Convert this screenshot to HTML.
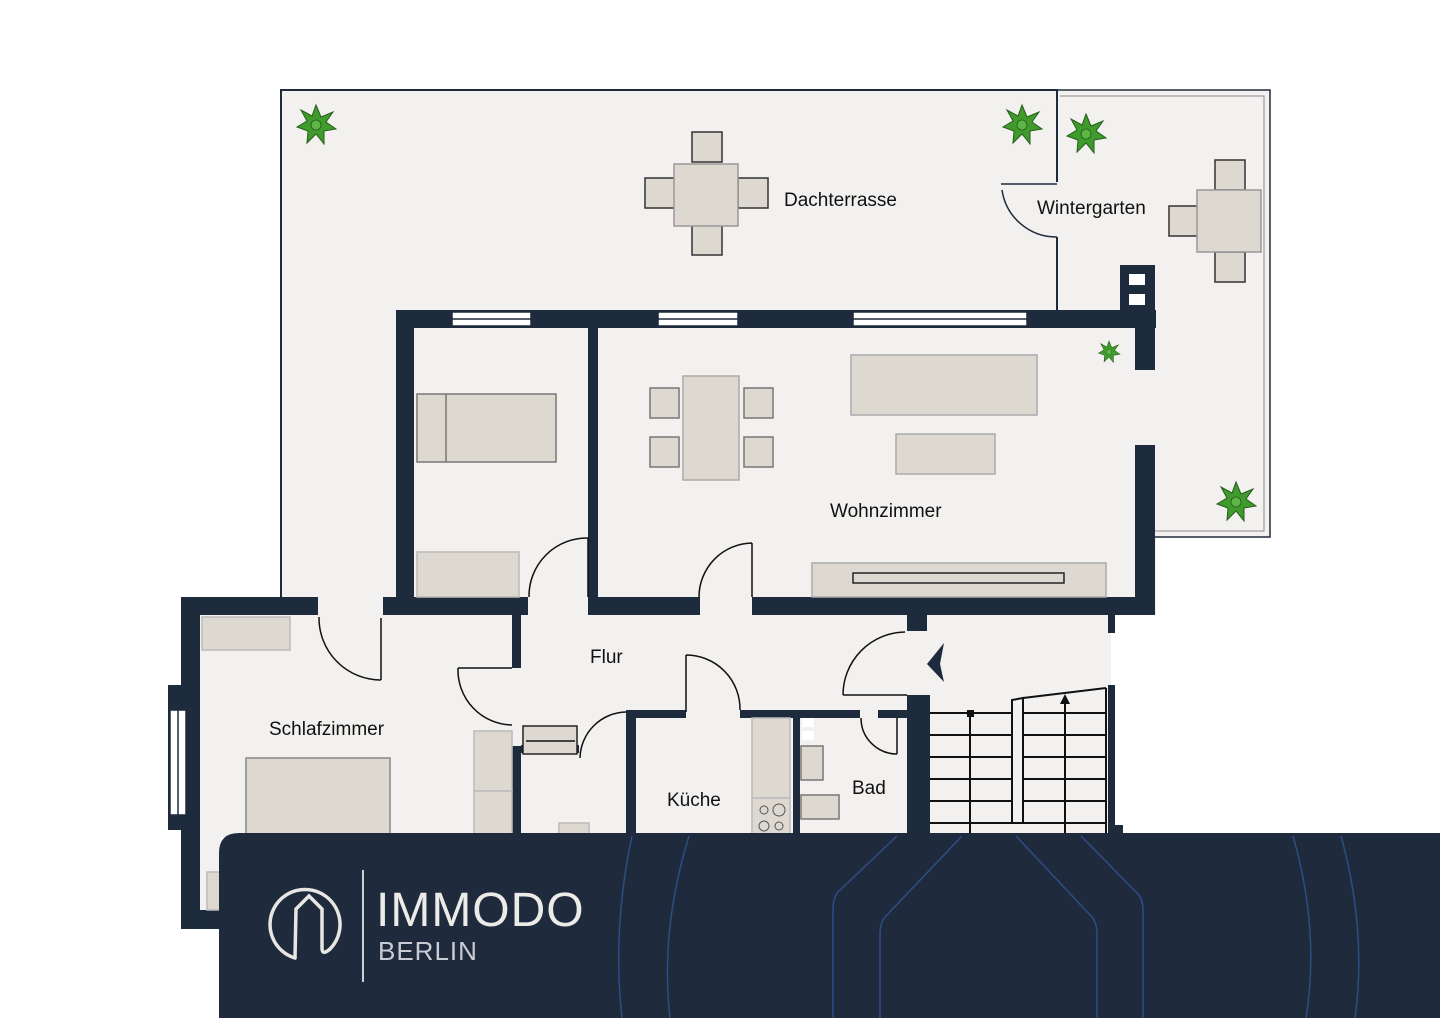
<!DOCTYPE html>
<html><head><meta charset="utf-8"><style>
html,body{margin:0;padding:0;background:#fff;}
svg{display:block;}
text{font-family:"Liberation Sans",sans-serif;}
</style></head><body>
<svg width="1440" height="1018" viewBox="0 0 1440 1018" xmlns="http://www.w3.org/2000/svg">
<defs>
<g id="plant">
<polygon points="0,-20 5,-8 17,-13 10,-3 20,4 8,6 8,19 0,9 -9,18 -8,6 -19,2 -9,-4 -15,-15 -4,-9" fill="#3f9b2c" stroke="#245c1a" stroke-width="1"/>
<circle r="5" fill="#5cb545" stroke="#245c1a" stroke-width="0.8"/>
</g>
</defs>
<rect width="1440" height="1018" fill="#fff"/>
<!-- floors -->
<polygon points="281,90 1057,90 1057,310 396,310 396,615 318,615 318,600 281,600" fill="#f3f1ef"/>
<rect x="1057" y="90" width="213" height="447" fill="#f3f1ef"/>
<rect x="1135" y="310" width="22" height="227" fill="#f3f1ef"/>
<rect x="396" y="310" width="760" height="305" fill="#f3f1ef"/>
<rect x="181" y="597" width="930" height="240" fill="#f3f1ef"/>
<rect x="200" y="830" width="20" height="80" fill="#f3f1ef"/>
<!-- terrace outlines -->
<polyline points="281,600 281,90 1057,90 1057,182" fill="none" stroke="#1e2b3c" stroke-width="2"/>
<line x1="1057" y1="237" x2="1057" y2="310" stroke="#1e2b3c" stroke-width="2"/>
<path d="M1001,184 L1057,184 M1057,237 A55,55 0 0 1 1002,190" fill="none" stroke="#1e2b3c" stroke-width="1.5"/>
<polyline points="1057,90 1270,90 1270,537 1155,537" fill="none" stroke="#1e2b3c" stroke-width="1.5"/>
<polyline points="1060,96 1264,96 1264,531 1155,531" fill="none" stroke="#888" stroke-width="1"/>
<!-- terrace table -->
<g fill="#ddd8d0" stroke="#333" stroke-width="1.5">
<rect x="692" y="132" width="30" height="30"/><rect x="692" y="225" width="30" height="30"/>
<rect x="645" y="178" width="30" height="30"/><rect x="738" y="178" width="30" height="30"/>
<rect x="674" y="164" width="64" height="62" stroke="#999"/>
<rect x="1215" y="160" width="30" height="30"/><rect x="1215" y="252" width="30" height="30"/>
<rect x="1169" y="206" width="30" height="30"/>
<rect x="1197" y="190" width="64" height="62" stroke="#999"/>
</g>
<use href="#plant" x="316" y="125"/><use href="#plant" x="1022" y="125"/>
<use href="#plant" x="1086" y="134"/><use href="#plant" x="1236" y="502"/>
<g transform="translate(1109,352) scale(0.55)"><use href="#plant"/></g>
<!-- walls -->
<g fill="#1e2b3c">
<rect x="396" y="310" width="760" height="18"/>
<rect x="396" y="310" width="18" height="305"/>
<rect x="588" y="328" width="10" height="287"/>
<rect x="1120" y="265" width="35" height="50"/>
<rect x="1135" y="310" width="20" height="60"/>
<rect x="1135" y="445" width="20" height="170"/>
<rect x="383" y="597" width="145" height="18"/>
<rect x="588" y="597" width="112" height="18"/>
<rect x="752" y="597" width="403" height="18"/>
<rect x="181" y="597" width="137" height="18"/>
<rect x="181" y="597" width="19" height="332"/>
<rect x="168" y="685" width="20" height="145"/>
<rect x="181" y="910" width="40" height="19"/>
<rect x="512" y="615" width="9" height="53"/>
<rect x="512" y="746" width="9" height="90"/>
<rect x="521" y="745" width="58" height="8"/>
<rect x="626" y="710" width="10" height="126"/>
<rect x="626" y="710" width="60" height="8"/>
<rect x="740" y="710" width="120" height="8"/>
<rect x="878" y="710" width="30" height="8"/>
<rect x="793" y="716" width="7" height="120"/>
<rect x="907" y="615" width="20" height="16"/>
<rect x="907" y="695" width="23" height="140"/>
<rect x="1108" y="615" width="7" height="18"/>
<rect x="1108" y="685" width="7" height="150"/>
<rect x="1115" y="825" width="8" height="10"/>
</g>
<rect x="1129" y="274" width="16" height="11" fill="#fff"/><rect x="1129" y="294" width="16" height="11" fill="#fff"/>
<!-- windows -->
<g fill="#fff" stroke="#1e2b3c" stroke-width="1.5">
<rect x="452" y="312" width="79" height="14"/><rect x="658" y="312" width="80" height="14"/><rect x="853" y="312" width="174" height="14"/>
<rect x="170" y="710" width="16" height="105"/>
</g>
<g stroke="#1e2b3c" stroke-width="1.5">
<line x1="452" y1="319" x2="531" y2="319"/><line x1="658" y1="319" x2="738" y2="319"/><line x1="853" y1="319" x2="1027" y2="319"/>
<line x1="178" y1="710" x2="178" y2="815"/>
</g>
<!-- doors -->
<g fill="none" stroke="#111" stroke-width="1.5">
<path d="M588,538 L588,597 M529,597 A58,58 0 0 1 588,538"/>
<path d="M752,543 L752,597 M699,597 A54,54 0 0 1 752,543"/>
<path d="M381,618 L381,680 M319,617 A62,62 0 0 0 381,680"/>
<path d="M458,668 L512,668 M458,668 A55,55 0 0 0 512,725"/>
<path d="M626,712 A47,47 0 0 0 580,758"/>
<path d="M686,655 L686,712 M686,655 A54,54 0 0 1 740,710"/>
<path d="M843,695 L907,695 M843,695 A63,63 0 0 1 905,632"/>
<path d="M897,718 L897,754 M861,718 A36,36 0 0 0 897,754"/>
</g>
<polygon points="927,664 944,643 940,664 944,682" fill="#1e2b3c"/>
<!-- stairs -->
<g fill="none" stroke="#111" stroke-width="2">
<line x1="930" y1="713" x2="1106" y2="713"/>
<line x1="930" y1="735" x2="1106" y2="735"/>
<line x1="930" y1="757" x2="1106" y2="757"/>
<line x1="930" y1="779" x2="1106" y2="779"/>
<line x1="930" y1="801" x2="1106" y2="801"/>
<line x1="930" y1="823" x2="1106" y2="823"/>
<line x1="970" y1="713" x2="970" y2="835"/>
<line x1="1065" y1="700" x2="1065" y2="835"/>
<polygon points="1012,700 1023,698 1023,823 1012,823" fill="#f3f1ef"/>
<line x1="1023" y1="698" x2="1106" y2="688"/>
<line x1="1106" y1="688" x2="1106" y2="835"/>
</g>
<rect x="967" y="710" width="7" height="7" fill="#111"/>
<polygon points="1065,694 1060,704 1070,704" fill="#111"/>
<!-- furniture -->
<g fill="#ddd8d0" stroke="#777" stroke-width="1.5">
<rect x="417" y="394" width="139" height="68"/><line x1="446" y1="394" x2="446" y2="462"/>
<rect x="417" y="552" width="102" height="45" stroke="#bbb"/>
<rect x="683" y="376" width="56" height="104" stroke="#aaa"/>
<rect x="650" y="388" width="29" height="30"/><rect x="650" y="437" width="29" height="30"/>
<rect x="744" y="388" width="29" height="30"/><rect x="744" y="437" width="29" height="30"/>
<rect x="851" y="355" width="186" height="60" stroke="#aaa"/>
<rect x="896" y="434" width="99" height="40" stroke="#aaa"/>
<rect x="812" y="563" width="294" height="34" stroke="#aaa"/>
<rect x="853" y="573" width="211" height="10" stroke="#222"/>
<rect x="202" y="617" width="88" height="33" stroke="#bbb"/>
<rect x="246" y="758" width="144" height="80" stroke="#888"/>
<rect x="474" y="731" width="38" height="60" stroke="#bbb"/><rect x="474" y="791" width="38" height="45" stroke="#bbb"/>
<rect x="523" y="726" width="54" height="28" stroke="#222"/>
<rect x="559" y="823" width="30" height="12" stroke="#bbb"/>
<rect x="752" y="718" width="38" height="80" stroke="#bbb"/>
<rect x="752" y="798" width="38" height="37" stroke="#bbb"/>
<rect x="801" y="746" width="22" height="34"/>
<rect x="801" y="795" width="38" height="24"/>
<rect x="207" y="872" width="13" height="38" stroke="#bbb"/>
</g>
<line x1="526" y1="741" x2="575" y2="741" stroke="#111" stroke-width="1.5"/>
<rect x="802" y="718" width="12" height="9" fill="#fff"/><rect x="802" y="731" width="12" height="9" fill="#fff"/>
<g fill="none" stroke="#555" stroke-width="1"><circle cx="764" cy="810" r="4"/><circle cx="779" cy="810" r="6"/><circle cx="764" cy="826" r="5"/><circle cx="779" cy="826" r="4"/></g>
<!-- labels -->
<g font-size="19" fill="#111">
<text x="784" y="206">Dachterrasse</text>
<text x="1037" y="214">Wintergarten</text>
<text x="830" y="517">Wohnzimmer</text>
<text x="590" y="663">Flur</text>
<text x="269" y="735">Schlafzimmer</text>
<text x="667" y="806">Küche</text>
<text x="852" y="794">Bad</text>
</g>
<!-- banner -->
<path d="M219,853 Q219,833 239,833 L1440,833 L1440,1018 L219,1018 Z" fill="#1f2b3c"/>
<g fill="none" stroke="#2f4c85" stroke-width="1.5">
<path d="M632,836 Q612,930 622,1018"/><path d="M689,836 Q660,930 670,1018"/>
<path d="M897,836 L838,892 Q833,898 833,910 L833,1018"/>
<path d="M962,836 L886,916 Q880,922 880,934 L880,1018"/>
<path d="M1016,836 L1091,916 Q1097,922 1097,934 L1097,1018"/>
<path d="M1081,836 L1136,892 Q1143,898 1143,910 L1143,1018"/>
<path d="M1293,836 Q1320,930 1306,1018"/><path d="M1341,836 Q1367,930 1355,1018"/>
</g>
<g fill="none" stroke="#e8e6e3" stroke-width="3.5" stroke-linecap="round">
<path d="M330,949 A35,35 0 1 0 295,958"/>
<path d="M295,958 L296,909 L309,896 L322,909 L322,948 Q322,956 330,949"/>
</g>
<line x1="363" y1="870" x2="363" y2="982" stroke="#cfcfcf" stroke-width="2"/>
<text x="376" y="926" font-size="48" fill="#ecebe8" letter-spacing="1">IMMODO</text>
<text x="378" y="960" font-size="26" fill="#c9ccd3" letter-spacing="1">BERLIN</text>
</svg>
</body></html>
